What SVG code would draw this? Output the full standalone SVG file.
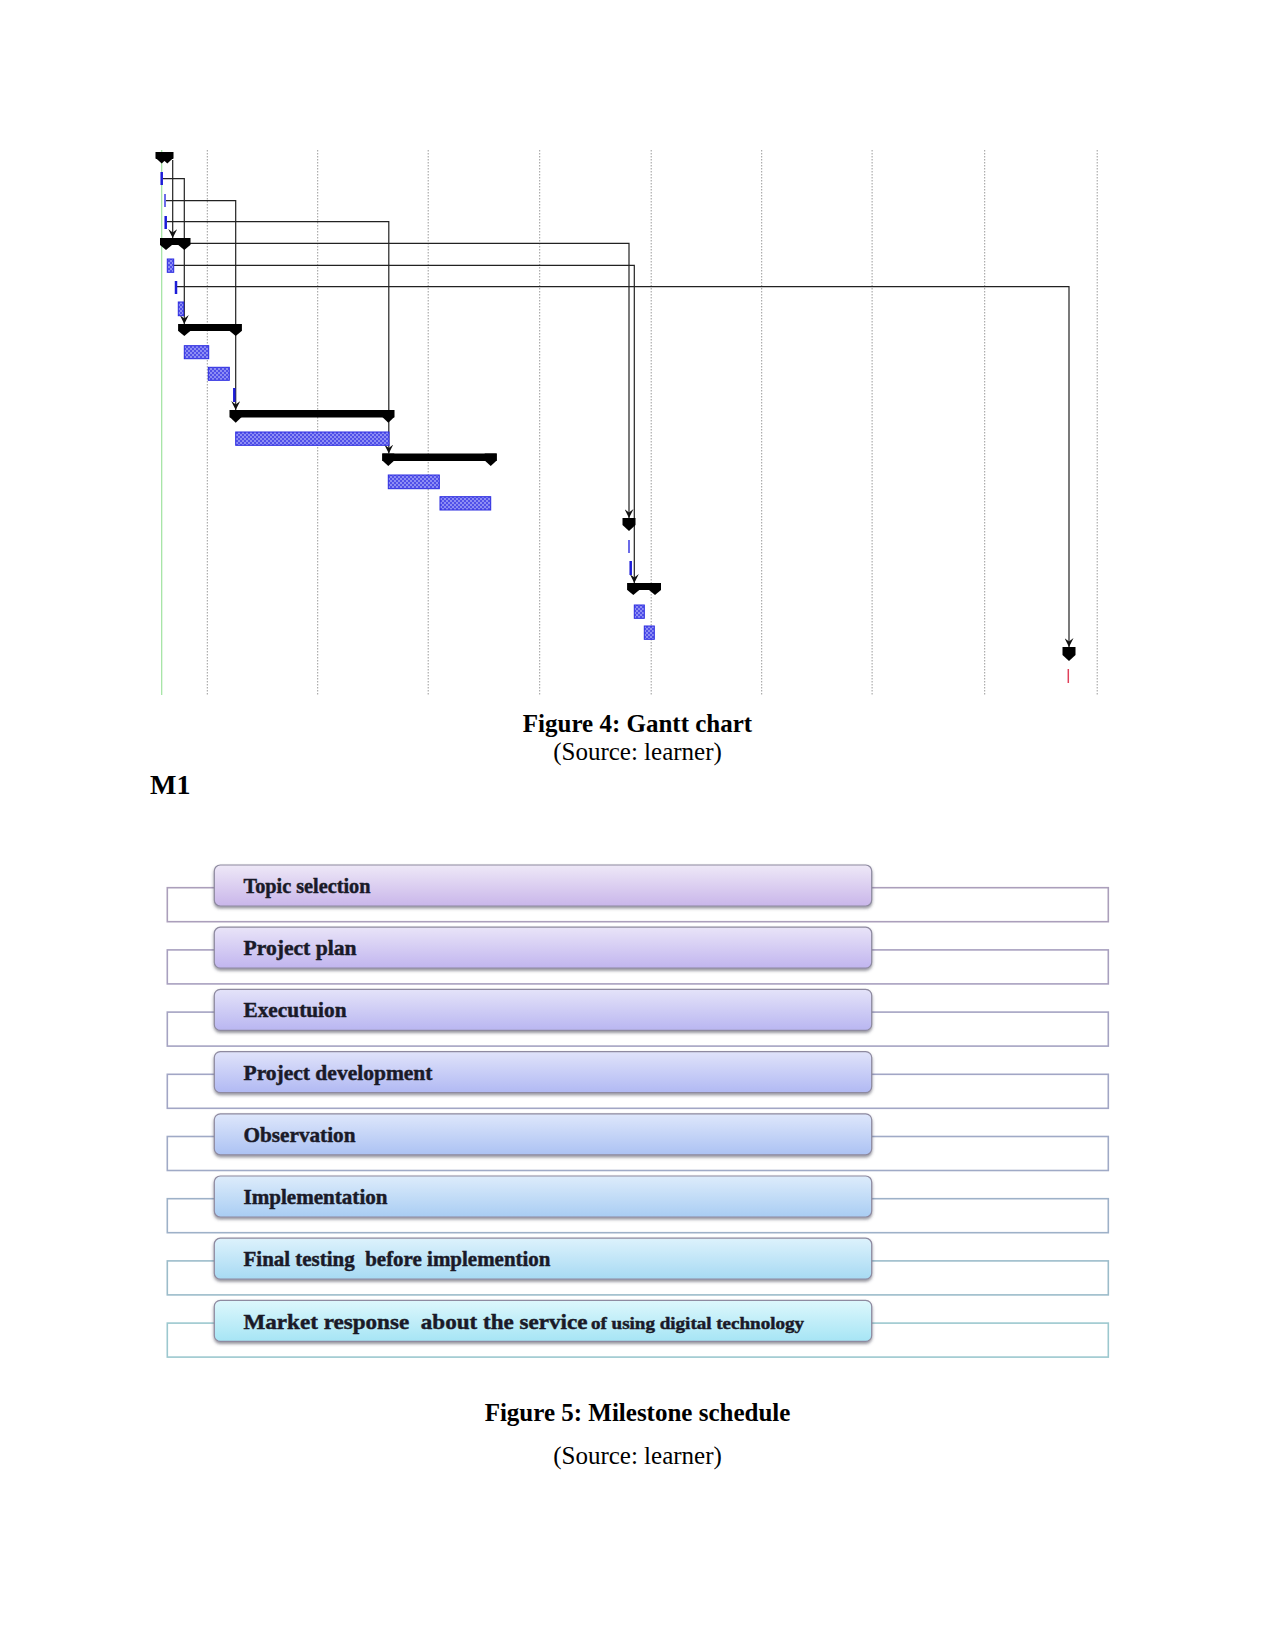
<svg xmlns="http://www.w3.org/2000/svg" width="1275" height="1650" viewBox="0 0 1275 1650">
<style>
.grid{stroke:#9a9a9a;stroke-width:1;stroke-dasharray:1.5,1.5}
.bar{fill:url(#hatch);stroke:#2a2ae0;stroke-width:1}
.tick{stroke:#1c1cd8;stroke-width:2.5}
.thin{stroke:#3a3ae0;stroke-width:1.5}
.sum{fill:#000}
.con{fill:none;stroke:#222;stroke-width:1.2}
.arr{fill:none;stroke:#222;stroke-width:1.2;marker-end:url(#ah)}
.cap{font-family:"Liberation Serif",serif;font-size:25px;fill:#000}
.b{font-weight:bold}
.lbl{font-family:"Liberation Serif",serif;font-weight:bold;font-size:21px;fill:#1a1a28;stroke:#1a1a28;stroke-width:0.45}
.box{stroke:#8e8aa0;stroke-width:1.2;filter:url(#sh)}
.outer{fill:#fff;stroke-width:1.6}
</style>
<defs>
<pattern id="hatch" width="4" height="4" patternUnits="userSpaceOnUse">
<rect width="4" height="4" fill="#8d8df4"/>
<rect width="2" height="2" fill="#5050e8"/>
<rect x="2" y="2" width="2" height="2" fill="#5050e8"/>
</pattern>
<marker id="ah" viewBox="0 0 10 10" refX="10" refY="5" markerWidth="9" markerHeight="9" markerUnits="userSpaceOnUse" orient="auto">
<path d="M0,0 L10,5 L0,10 L4,5 Z" fill="#111"/>
</marker>
<filter id="sh" x="-5%" y="-20%" width="110%" height="150%">
<feDropShadow dx="0" dy="2" stdDeviation="1.5" flood-color="#404050" flood-opacity="0.55"/>
</filter>
<linearGradient id="g1" x1="0" y1="0" x2="0" y2="1"><stop offset="0" stop-color="#eee8f7"/><stop offset="1" stop-color="#c9b6ea"/></linearGradient>
<linearGradient id="g2" x1="0" y1="0" x2="0" y2="1"><stop offset="0" stop-color="#e9e4f8"/><stop offset="1" stop-color="#c1b5ef"/></linearGradient>
<linearGradient id="g3" x1="0" y1="0" x2="0" y2="1"><stop offset="0" stop-color="#e4e3f9"/><stop offset="1" stop-color="#b9b6f1"/></linearGradient>
<linearGradient id="g4" x1="0" y1="0" x2="0" y2="1"><stop offset="0" stop-color="#e0e3fa"/><stop offset="1" stop-color="#b1b9f3"/></linearGradient>
<linearGradient id="g5" x1="0" y1="0" x2="0" y2="1"><stop offset="0" stop-color="#dee7fb"/><stop offset="1" stop-color="#acc2f3"/></linearGradient>
<linearGradient id="g6" x1="0" y1="0" x2="0" y2="1"><stop offset="0" stop-color="#ddecfb"/><stop offset="1" stop-color="#a9cdf3"/></linearGradient>
<linearGradient id="g7" x1="0" y1="0" x2="0" y2="1"><stop offset="0" stop-color="#ddf2fc"/><stop offset="1" stop-color="#a7daf3"/></linearGradient>
<linearGradient id="g8" x1="0" y1="0" x2="0" y2="1"><stop offset="0" stop-color="#ddf7fc"/><stop offset="1" stop-color="#a6e5f5"/></linearGradient>
</defs>
<rect width="1275" height="1650" fill="#fff"/>

<!-- Gantt grid -->
<g id="gantt-grid">
<line x1="161.7" y1="150" x2="161.7" y2="695" stroke="#9fe39f" stroke-width="1.2"/>
<line class="grid" x1="207.3" y1="150" x2="207.3" y2="695"/>
<line class="grid" x1="317.7" y1="150" x2="317.7" y2="695"/>
<line class="grid" x1="428.2" y1="150" x2="428.2" y2="695"/>
<line class="grid" x1="539.7" y1="150" x2="539.7" y2="695"/>
<line class="grid" x1="651.2" y1="150" x2="651.2" y2="695"/>
<line class="grid" x1="761.7" y1="150" x2="761.7" y2="695"/>
<line class="grid" x1="872.1" y1="150" x2="872.1" y2="695"/>
<line class="grid" x1="984.7" y1="150" x2="984.7" y2="695"/>
<line class="grid" x1="1097.2" y1="150" x2="1097.2" y2="695"/>
</g>

<!-- connectors -->
<g id="connectors">
<path class="arr" d="M172.7,160 V238"/>
<path class="arr" d="M163,178.7 H184.3 V324"/>
<path class="arr" d="M166,200.7 H235.7 V410"/>
<path class="arr" d="M167,221.7 H388.8 V453.5"/>
<path class="arr" d="M190,243.3 H629 V518"/>
<path class="arr" d="M174,265.3 H634.3 V583"/>
<path class="arr" d="M177,286.7 H1069 V647"/>
</g>

<!-- tasks -->
<g id="summary-1" class="sum">
<rect x="155.7" y="152" width="17.6" height="7"/>
<polygon points="155.7,152 167.7,152 167.7,158 161.7,163.5 155.7,158"/>
<polygon points="161.3,152 173.3,152 173.3,158 167.3,163.5 161.3,158"/>
</g>
<g id="task-1"><line class="tick" x1="161.7" y1="172" x2="161.7" y2="185"/></g>
<g id="task-2"><line class="thin" x1="165" y1="194" x2="165" y2="207"/></g>
<g id="task-3"><line class="tick" x1="165.7" y1="216" x2="165.7" y2="229"/></g>
<g id="summary-2" class="sum">
<rect x="160" y="238" width="30.3" height="7"/>
<polygon points="160,238 172,238 172,245 166,250 160,245"/>
<polygon points="178.3,238 190.3,238 190.3,245 184.3,250 178.3,245"/>
</g>
<g id="task-4"><rect class="bar" x="167.3" y="259" width="6.4" height="13.3"/></g>
<g id="task-5"><line class="tick" x1="176" y1="281" x2="176" y2="294"/></g>
<g id="task-6"><rect class="bar" x="178.3" y="302" width="5.4" height="13.7"/></g>
<g id="summary-3" class="sum">
<rect x="178.3" y="324" width="63.4" height="7"/>
<polygon points="178.3,324 190.3,324 190.3,331 184.3,336 178.3,331"/>
<polygon points="229.7,324 241.7,324 241.7,331 235.7,336 229.7,331"/>
</g>
<g id="task-7"><rect class="bar" x="184.3" y="345.7" width="24.4" height="13"/></g>
<g id="task-8"><rect class="bar" x="208.3" y="367.3" width="21" height="13"/></g>
<g id="task-9"><line class="tick" x1="234.3" y1="388" x2="234.3" y2="402" stroke-width="3"/></g>
<g id="summary-4" class="sum">
<rect x="229.7" y="410" width="164.6" height="7.5"/>
<polygon points="229.7,410 241.7,410 241.7,417 235.7,422.7 229.7,417"/>
<polygon points="382.3,410 394.3,410 394.3,417 388.3,422.7 382.3,417"/>
</g>
<g id="task-10"><rect class="bar" x="235.7" y="432" width="153.3" height="13.3"/></g>
<g id="summary-5" class="sum">
<rect x="382.3" y="453.5" width="114.4" height="7.5"/>
<polygon points="382.3,453.5 394.3,453.5 394.3,460.5 388.3,466 382.3,460.5"/>
<polygon points="484.7,453.5 496.7,453.5 496.7,460.5 490.7,466 484.7,460.5"/>
</g>
<g id="task-11"><rect class="bar" x="388.3" y="475" width="51" height="13.7"/></g>
<g id="task-12"><rect class="bar" x="440" y="496.7" width="50.7" height="13.3"/></g>
<g id="milestone-1" class="sum">
<polygon points="622.5,518 635.5,518 635.5,525 629,531 622.5,525"/>
</g>
<g id="task-13"><line class="thin" x1="629" y1="540" x2="629" y2="553" stroke="#6a6ae8"/></g>
<g id="task-14"><line class="tick" x1="630.7" y1="561" x2="630.7" y2="575"/></g>
<g id="summary-6" class="sum">
<rect x="627.3" y="583" width="33.7" height="7"/>
<polygon points="627.3,583 639.3,583 639.3,590 633.3,595 627.3,590"/>
<polygon points="649,583 661,583 661,590 655,595 649,590"/>
</g>
<g id="task-15"><rect class="bar" x="634.3" y="605" width="10" height="13.3"/></g>
<g id="task-16"><rect class="bar" x="644.3" y="626" width="10" height="13.3"/></g>
<g id="milestone-2" class="sum">
<polygon points="1062.5,647 1075.5,647 1075.5,655 1069,661 1062.5,655"/>
</g>
<g id="task-17"><line x1="1068.3" y1="669" x2="1068.3" y2="683" stroke="#e0405a" stroke-width="1.5"/></g>

<!-- captions -->
<text class="cap b" x="637.5" y="732" text-anchor="middle">Figure 4: Gantt chart</text>
<text class="cap" x="637.5" y="760" text-anchor="middle">(Source: learner)</text>
<text class="cap b" x="150" y="794" style="font-size:28px">M1</text>

<!-- Milestone schedule -->
<g id="ms-1">
<rect class="outer" x="167.3" y="887.7" width="941" height="34" stroke="#ab9fbb"/>
<rect class="box" x="214.3" y="865" width="657.4" height="41" rx="6" fill="url(#g1)"/>
<text class="lbl" x="243.5" y="893" textLength="127" lengthAdjust="spacingAndGlyphs">Topic selection</text>
</g>
<g id="ms-2">
<rect class="outer" x="167.3" y="949.9" width="941" height="34" stroke="#a8a0bf"/>
<rect class="box" x="214.3" y="927.2" width="657.4" height="41" rx="6" fill="url(#g2)"/>
<text class="lbl" x="243.5" y="955.2" textLength="113" lengthAdjust="spacingAndGlyphs">Project plan</text>
</g>
<g id="ms-3">
<rect class="outer" x="167.3" y="1012.1" width="941" height="34" stroke="#a5a3c2"/>
<rect class="box" x="214.3" y="989.4" width="657.4" height="41" rx="6" fill="url(#g3)"/>
<text class="lbl" x="243.5" y="1017.4" textLength="103" lengthAdjust="spacingAndGlyphs">Executuion</text>
</g>
<g id="ms-4">
<rect class="outer" x="167.3" y="1074.3" width="941" height="34" stroke="#a2a6c5"/>
<rect class="box" x="214.3" y="1051.6" width="657.4" height="41" rx="6" fill="url(#g4)"/>
<text class="lbl" x="243.5" y="1079.6" textLength="189" lengthAdjust="spacingAndGlyphs">Project development</text>
</g>
<g id="ms-5">
<rect class="outer" x="167.3" y="1136.5" width="941" height="34" stroke="#a0aac6"/>
<rect class="box" x="214.3" y="1113.8" width="657.4" height="41" rx="6" fill="url(#g5)"/>
<text class="lbl" x="243.5" y="1141.8" textLength="112" lengthAdjust="spacingAndGlyphs">Observation</text>
</g>
<g id="ms-6">
<rect class="outer" x="167.3" y="1198.7" width="941" height="34" stroke="#9eb1c8"/>
<rect class="box" x="214.3" y="1176" width="657.4" height="41" rx="6" fill="url(#g6)"/>
<text class="lbl" x="243.5" y="1203.5" textLength="144" lengthAdjust="spacingAndGlyphs">Implementation</text>
</g>
<g id="ms-7">
<rect class="outer" x="167.3" y="1260.9" width="941" height="34" stroke="#9cbcca"/>
<rect class="box" x="214.3" y="1238.2" width="657.4" height="41" rx="6" fill="url(#g7)"/>
<text class="lbl" x="243.5" y="1265.7" textLength="307" lengthAdjust="spacingAndGlyphs" xml:space="preserve">Final testing  before implemention</text>
</g>
<g id="ms-8">
<rect class="outer" x="167.3" y="1323.1" width="941" height="34" stroke="#9cc8cf"/>
<rect class="box" x="214.3" y="1300.4" width="657.4" height="41" rx="6" fill="url(#g8)"/>
<text class="lbl" xml:space="preserve"><tspan x="243.5" y="1328.5" style="font-size:22px" textLength="344" lengthAdjust="spacingAndGlyphs">Market response  about the service</tspan><tspan x="591" y="1328.5" style="font-size:17px" textLength="213" lengthAdjust="spacingAndGlyphs">of using digital technology</tspan></text>
</g>

<text class="cap b" x="637.5" y="1421" text-anchor="middle">Figure 5: Milestone schedule</text>
<text class="cap" x="637.5" y="1464" text-anchor="middle">(Source: learner)</text>
</svg>
